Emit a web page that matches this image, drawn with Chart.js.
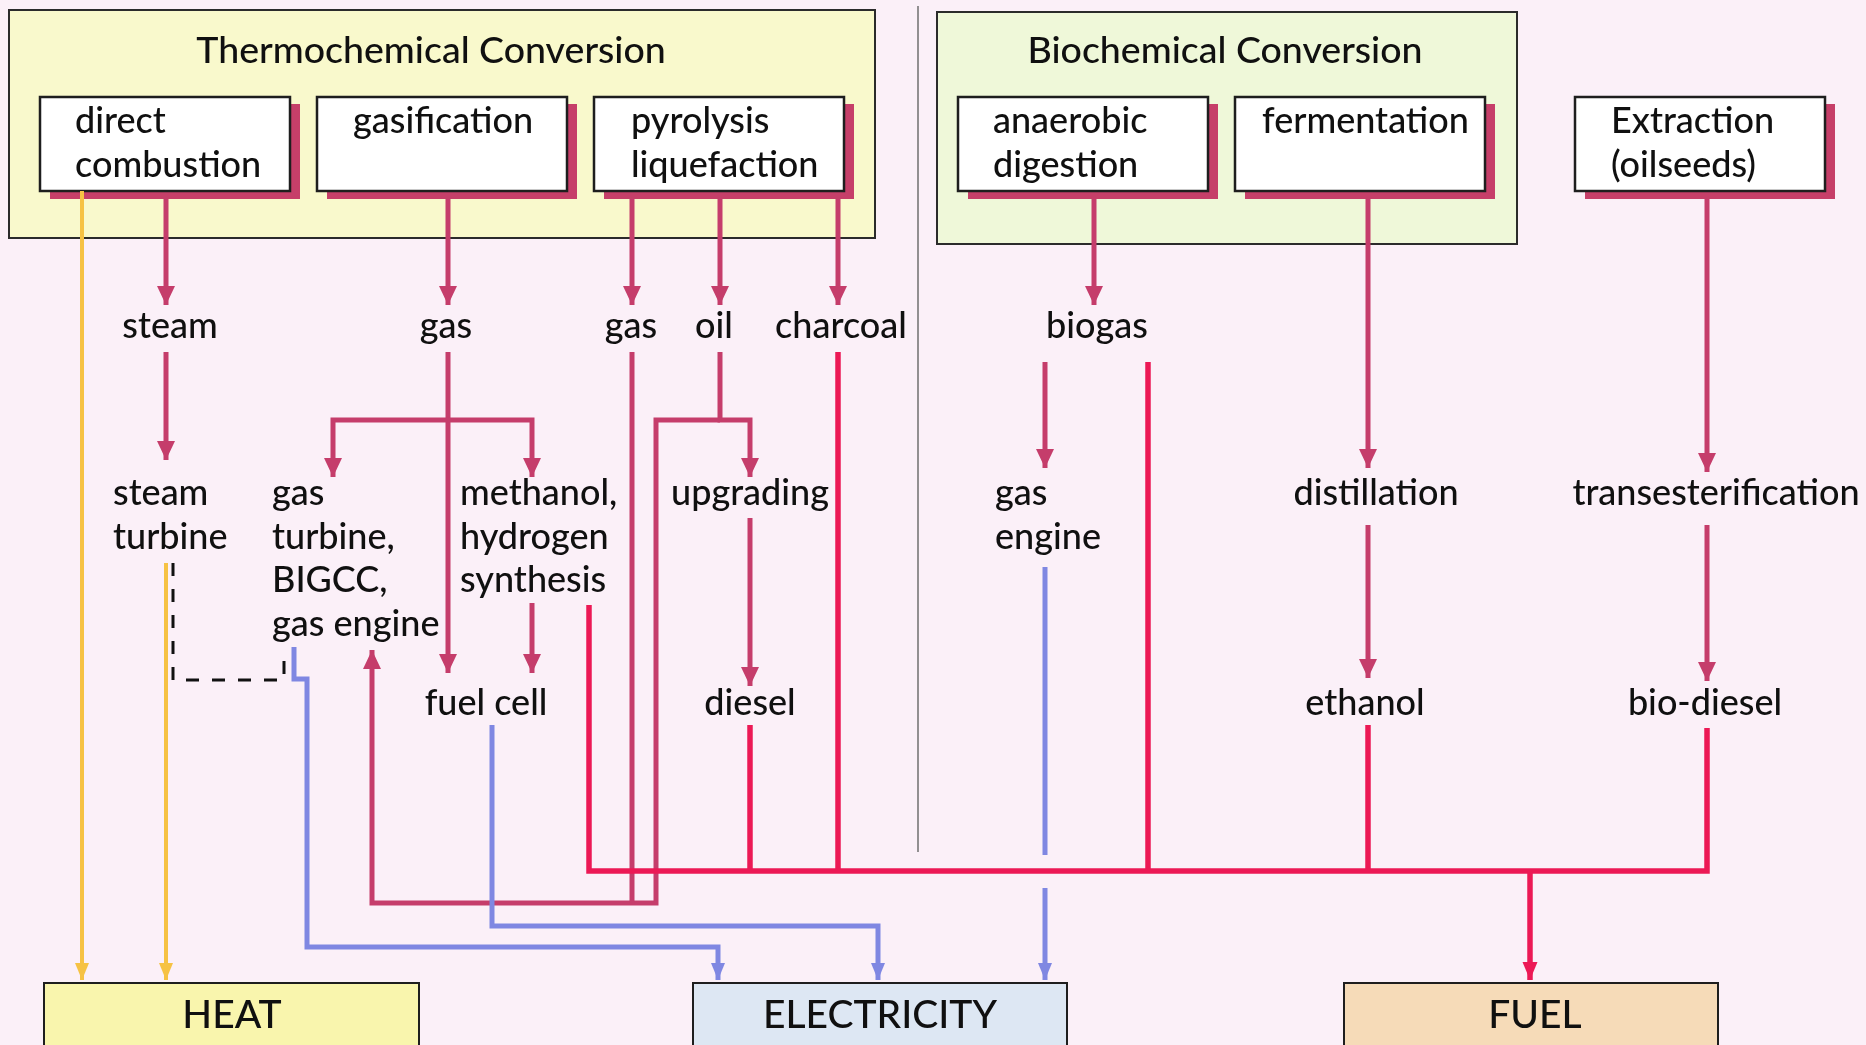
<!DOCTYPE html>
<html><head><meta charset="utf-8">
<script src="https://cdn.jsdelivr.net/npm/chart.js@4.4.1/dist/chart.umd.min.js"></script>
<style>
html,body{margin:0;padding:0;background:#fbf0f8;overflow:hidden}
#wrap{width:1866px;height:1045px;position:relative}
canvas{display:block}
</style></head><body>
<div id="wrap"><canvas id="c" width="1866" height="1045"></canvas></div>
<script>
// ---------------- data (diagram units = reference pixels) ----------------
const groupTitles = ['Thermochemical Conversion', 'Biochemical Conversion'];
const groupTitleX = [431, 1225];
const groupRects = [[9, 10, 875, 238], [937, 12, 1517, 244]];

const processLabels = [['direct', 'combustion'], ['gasification'], ['pyrolysis', 'liquefaction'],
                       ['anaerobic', 'digestion'], ['fermentation'], ['Extraction', '(oilseeds)']];
const processLeft = [40, 317, 594, 958, 1235, 1575];
const processTextX = [75, 353, 631, 993, 1262, 1611];

const productLabels = ['steam', 'gas', 'gas', 'oil', 'charcoal', 'biogas'];
const productX = [170, 446, 631, 714, 841, 1097];

const stepBlockLabels = [['steam', 'turbine'], ['gas', 'turbine,', 'BIGCC,', 'gas engine'],
                         ['methanol,', 'hydrogen', 'synthesis'], ['gas', 'engine']];
const stepBlockX = [113, 272, 460, 995];
const stepCenterLabels = ['upgrading', 'distillation', 'transesterification'];
const stepCenterX = [750, 1376, 1716];

const outputLabels = ['fuel cell', 'diesel', 'ethanol', 'bio-diesel'];
const outputX = [486, 750, 1365, 1705];

const endLabels = ['HEAT', 'ELECTRICITY', 'FUEL'];
const endLeft = [44, 693, 1344];
const endRight = [419, 1067, 1718];
const endTextX = [232, 880, 1535];

// connectors: [kind, arrow?, points]
const links = [
  ['feed', 1, [[166,199],[166,305]]],
  ['feed', 1, [[448,199],[448,305]]],
  ['feed', 1, [[632,199],[632,305]]],
  ['feed', 1, [[720,199],[720,305]]],
  ['feed', 1, [[838,199],[838,305]]],
  ['feed', 1, [[1094,199],[1094,305]]],
  ['feed', 1, [[1368,199],[1368,468]]],
  ['feed', 1, [[1707,199],[1707,472]]],
  ['feed', 1, [[166,352],[166,460]]],
  ['feed', 1, [[448,352],[448,673]]],
  ['feed', 1, [[448,420],[333,420],[333,477]]],
  ['feed', 1, [[448,420],[532,420],[532,477]]],
  ['feed', 1, [[532,603],[532,673]]],
  ['feed', 1, [[720,352],[720,420],[750,420],[750,477]]],
  ['feed', 1, [[720,420],[656,420],[656,903],[372,903],[372,650]]],
  ['feed', 0, [[632,352],[632,903]]],
  ['feed', 1, [[750,518],[750,686]]],
  ['feed', 1, [[1045,362],[1045,468]]],
  ['feed', 1, [[1368,525],[1368,678]]],
  ['feed', 1, [[1707,525],[1707,681]]],
  ['fuel', 0, [[838,352],[838,871]]],
  ['fuel', 0, [[750,725],[750,871]]],
  ['fuel', 0, [[1148,362],[1148,871]]],
  ['fuel', 0, [[1368,725],[1368,871]]],
  ['fuel', 0, [[589,605],[589,871],[1707,871],[1707,728]]],
  ['fuel', 1, [[1530,871],[1530,980]]],
  ['power', 0, [[1045,567],[1045,855]]],
  ['power', 1, [[1045,888],[1045,980]]],
  ['power', 1, [[492,725],[492,926],[878,926],[878,980]]],
  ['power', 1, [[294,647],[294,679],[307,679],[307,947],[718,947],[718,980]]],
  ['heat', 1, [[82,191],[82,980]]],
  ['heat', 1, [[166,563],[166,980]]],
  ['dash', 0, [[173,563],[173,680],[284,680],[284,648]]]
];

// ---------------- styles ----------------
const BG = '#fbf0f8';
const TEXT = '#101010';
const FONT = 'Lato, "Open Sans", sans-serif';
const WEIGHT = '500 ';
const STYLE = {
  feed:  {color: '#c53d6b', width: 5,   dash: [],       headL: 19, headW: 9},
  fuel:  {color: '#ec1955', width: 5.5, dash: [],       headL: 18, headW: 7.5},
  power: {color: '#7f87e2', width: 5,   dash: [],       headL: 17, headW: 7},
  heat:  {color: '#f6c244', width: 4,   dash: [],       headL: 17, headW: 7},
  dash:  {color: '#111111', width: 3,   dash: [13, 13], headL: 0,  headW: 0}
};
const GROUP_FILL = ['#f9f9cc', '#eff8d9'];
const END_FILL = ['#f9f5ad', '#dde7f3', '#f6dbb8'];

// ---------------- chart ----------------
const datasets = links.map((l, i) => {
  const s = STYLE[l[0]];
  return {
    data: l[2].map(p => ({x: p[0], y: p[1]})),
    showLine: true,
    borderColor: s.color,
    backgroundColor: s.color,
    borderWidth: s.width,
    borderDash: s.dash,
    borderCapStyle: 'butt',
    borderJoinStyle: 'miter',
    pointRadius: 0,
    pointHoverRadius: 0,
    fill: false,
    tension: 0,
    order: -i,
    arrow: l[1] === 1,
    kind: l[0]
  };
});

const diagram = {
  id: 'diagram',
  beforeDraw(chart) {
    const c = chart.ctx;
    c.save(); c.fillStyle = BG; c.fillRect(0, 0, chart.width, chart.height); c.restore();
  },
  beforeDatasetsDraw(chart) {
    const c = chart.ctx, X = v => chart.scales.x.getPixelForValue(v), Y = v => chart.scales.y.getPixelForValue(v);
    c.save();
    groupRects.forEach((r, i) => {
      c.fillStyle = GROUP_FILL[i];
      c.fillRect(X(r[0]), Y(r[1]), X(r[2]) - X(r[0]), Y(r[3]) - Y(r[1]));
      c.lineWidth = 2; c.strokeStyle = '#2b2b2b';
      c.strokeRect(X(r[0]), Y(r[1]), X(r[2]) - X(r[0]), Y(r[3]) - Y(r[1]));
    });
    c.strokeStyle = '#6f6f6f'; c.lineWidth = 1.5;
    c.beginPath(); c.moveTo(X(918), Y(6)); c.lineTo(X(918), Y(852)); c.stroke();
    processLeft.forEach(x0 => {
      const w = X(x0 + 250) - X(x0), h = Y(191) - Y(97);
      c.fillStyle = '#c63f69';
      c.fillRect(X(x0 + 10), Y(104), w, h + 1);
      c.fillStyle = '#ffffff';
      c.fillRect(X(x0), Y(97), w, h);
      c.lineWidth = 2.5; c.strokeStyle = '#1e1e1e';
      c.strokeRect(X(x0), Y(97), w, h);
    });
    endLeft.forEach((x0, i) => {
      c.fillStyle = END_FILL[i];
      c.fillRect(X(x0), Y(983), X(endRight[i]) - X(x0), Y(1060) - Y(983));
      c.lineWidth = 2; c.strokeStyle = '#1e1e1e';
      c.strokeRect(X(x0), Y(983), X(endRight[i]) - X(x0), Y(1060) - Y(983));
    });
    c.restore();
  },
  afterDatasetsDraw(chart) {
    const c = chart.ctx, X = v => chart.scales.x.getPixelForValue(v), Y = v => chart.scales.y.getPixelForValue(v);
    c.save();
    chart.data.datasets.forEach((ds, i) => {
      if (!ds.arrow) return;
      const s = STYLE[ds.kind];
      const pts = chart.getDatasetMeta(i).data, n = pts.length;
      const a = pts[n - 2], b = pts[n - 1];
      const dx = b.x - a.x, dy = b.y - a.y, len = Math.hypot(dx, dy) || 1;
      const ux = dx / len, uy = dy / len;
      c.fillStyle = s.color;
      c.beginPath();
      c.moveTo(b.x, b.y);
      c.lineTo(b.x - ux * s.headL - uy * s.headW, b.y - uy * s.headL + ux * s.headW);
      c.lineTo(b.x - ux * s.headL + uy * s.headW, b.y - uy * s.headL - ux * s.headW);
      c.closePath(); c.fill();
    });
    c.fillStyle = TEXT;
    c.textBaseline = 'alphabetic';
    c.font = WEIGHT + '37.5px ' + FONT;
    c.textAlign = 'center';
    groupTitles.forEach((t, i) => c.fillText(t, X(groupTitleX[i]), Y(63)));
    c.font = WEIGHT + '36px ' + FONT;
    c.textAlign = 'left';
    processLabels.forEach((lines, i) => lines.forEach((t, j) => c.fillText(t, X(processTextX[i]), Y(133 + j * 44))));
    c.textAlign = 'center';
    productLabels.forEach((t, i) => c.fillText(t, X(productX[i]), Y(338)));
    c.textAlign = 'left';
    stepBlockLabels.forEach((lines, i) => lines.forEach((t, j) => c.fillText(t, X(stepBlockX[i]), Y(505 + j * 43.5))));
    c.textAlign = 'center';
    stepCenterLabels.forEach((t, i) => c.fillText(t, X(stepCenterX[i]), Y(505)));
    outputLabels.forEach((t, i) => c.fillText(t, X(outputX[i]), Y(715)));
    c.font = WEIGHT + '39px ' + FONT;
    endLabels.forEach((t, i) => c.fillText(t, X(endTextX[i]), Y(1028)));
    c.restore();
  }
};

new Chart(document.getElementById('c'), {
  type: 'scatter',
  data: {datasets},
  options: {
    responsive: false,
    devicePixelRatio: 1,
    animation: false,
    events: [],
    layout: {padding: 0},
    scales: {
      x: {type: 'linear', min: 0, max: 1866, display: false},
      y: {type: 'linear', min: 0, max: 1045, reverse: true, display: false}
    },
    plugins: {legend: {display: false}, tooltip: {enabled: false}, title: {display: false}}
  },
  plugins: [diagram]
});
</script>
</body></html>
